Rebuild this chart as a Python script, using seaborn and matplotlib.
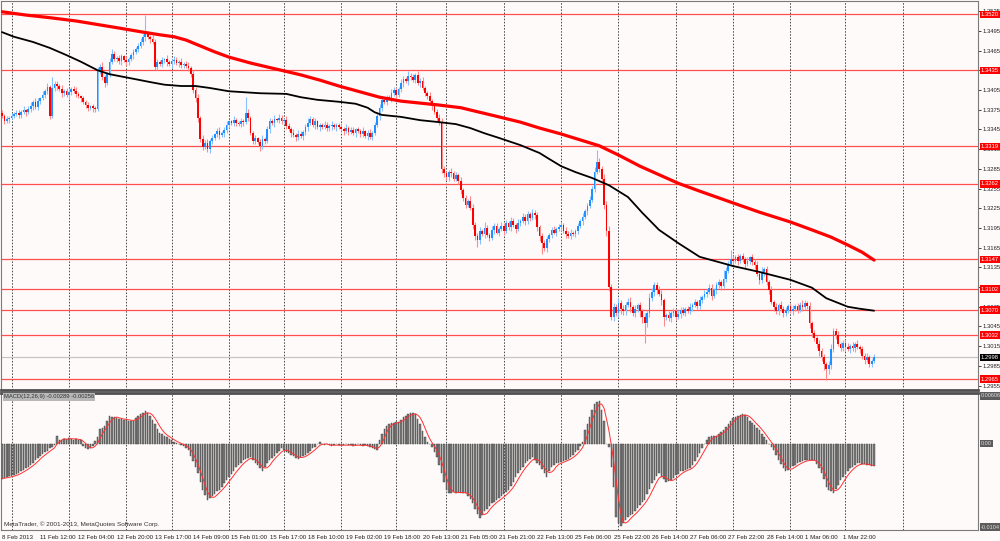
import matplotlib
matplotlib.use("Agg")
import matplotlib.pyplot as plt
import matplotlib.transforms as mtransforms
import numpy as np
import pandas as pd
import seaborn as sns

# EURUSD H1, prices stored as pips above 1.2900
BASE = 1.2900
first_open = 470
closes = [
    465, 458, 461, 463, 466, 468, 470, 467, 472, 474, 471, 476, 481, 486, 479, 488, 492, 498, 503, 510,
    466, 508, 514, 511, 506, 500, 504, 497, 502, 507, 503, 499, 496, 492, 487, 482, 478, 480, 477, 476,
    534, 540, 524, 515, 530, 548, 560, 552, 553, 549, 556, 550, 547, 552, 558, 563, 568, 572, 578, 585,
    590, 586, 582, 578, 540, 548, 545, 550, 552, 547, 544, 549, 551, 546, 548, 543, 545, 541, 538, 530,
    505, 492, 462, 430, 418, 425, 415, 428, 432, 438, 442, 436, 440, 444, 452, 457, 454, 459, 455, 453,
    458, 456, 470, 462, 440, 428, 432, 426, 420, 431, 427, 445, 458, 455, 461, 459, 463, 457, 460, 450,
    446, 440, 437, 433, 438, 435, 441, 448, 455, 461, 452, 458, 448, 451, 449, 452, 447, 450, 452, 448,
    451, 449, 446, 443, 447, 441, 444, 440, 445, 442, 438, 442, 435, 440, 434, 439, 452, 466, 478, 490,
    487, 494, 492, 500, 505, 498, 506, 515, 522, 518, 527, 524, 520, 528, 516, 519, 508, 500, 496, 488,
    480, 472, 462, 455, 384, 378, 372, 380, 378, 370, 375, 367, 352, 340, 330, 336, 326, 300, 282, 276,
    290, 286, 295, 284, 280, 292, 298, 288, 294, 298, 290, 302, 296, 306, 300, 294, 303, 306, 312, 305,
    316, 310, 318, 314, 296, 282, 272, 265, 278, 284, 292, 288, 294, 296, 300, 290, 286, 283, 288, 285,
    290, 298, 305, 312, 320, 328, 338, 355, 380, 395, 385, 370, 330, 290, 205, 160, 175, 165, 180, 172,
    168, 178, 183, 174, 166, 171, 177, 168, 160, 150, 165, 188, 198, 208, 200, 195, 185, 160, 162, 158,
    165, 168, 160, 164, 170, 166, 172, 168, 175, 178, 182, 176, 186, 190, 195, 198, 204, 192, 200, 208,
    212, 206, 218, 230, 240, 248, 245, 250, 244, 252, 247, 240, 245, 250, 243, 238, 225, 215, 228, 232,
    212, 200, 182, 175, 168, 178, 172, 165, 170, 176, 168, 172, 176, 170, 178, 174, 180, 176, 150, 135,
    128, 118, 108, 98, 88, 80, 86, 110, 138, 132, 118, 112, 120, 114, 110, 116, 112, 118, 114, 110,
    100, 94, 98, 88, 92, 98,
]
wick_up = [
    4, 3, 5, 2, 4, 3, 5, 4, 3, 6, 2, 4, 5, 3, 6, 4, 3, 5, 4, 6,
    3, 17, 5, 4, 3, 6, 2, 4, 5, 3, 4, 6, 3, 2, 4, 3, 5, 2, 4, 3,
    6, 5, 8, 4, 3, 5, 7, 4, 3, 5, 4, 2, 6, 3, 4, 5, 3, 4, 6, 5,
    29, 4, 3, 6, 5, 4, 3, 5, 2, 6, 4, 3, 5, 4, 2, 5, 3, 4, 6, 3,
    5, 4, 7, 3, 6, 4, 5, 3, 4, 2, 5, 6, 3, 4, 5, 3, 2, 6, 4, 3,
    5, 3, 25, 6, 4, 3, 5, 2, 4, 6, 3, 5, 4, 3, 6, 2, 5, 4, 3, 6,
    4, 3, 5, 2, 6, 4, 3, 5, 7, 4, 3, 5, 2, 4, 3, 6, 4, 3, 5, 2,
    4, 3, 5, 2, 6, 3, 4, 5, 2, 4, 3, 6, 2, 4, 5, 3, 4, 6, 5, 3,
    5, 4, 3, 6, 4, 5, 3, 6, 4, 3, 7, 4, 5, 3, 6, 4, 5, 3, 4, 6,
    3, 5, 4, 6, 8, 5, 4, 3, 6, 4, 5, 3, 6, 4, 5, 3, 8, 6, 4, 5,
    6, 4, 9, 5, 3, 6, 4, 5, 3, 6, 4, 5, 3, 6, 4, 2, 5, 3, 6, 4,
    5, 3, 6, 4, 5, 3, 6, 4, 5, 3, 4, 6, 3, 5, 4, 3, 6, 4, 5, 3,
    4, 5, 3, 6, 4, 5, 6, 4, 8, 19, 6, 5, 7, 6, 8, 5, 6, 4, 8, 5,
    6, 4, 5, 7, 4, 6, 3, 5, 4, 6, 5, 8, 6, 5, 4, 6, 5, 3, 4, 6,
    4, 5, 3, 6, 4, 5, 3, 4, 6, 3, 5, 4, 6, 3, 5, 4, 6, 5, 3, 4,
    5, 4, 13, 6, 4, 13, 5, 4, 6, 3, 5, 4, 6, 3, 5, 4, 6, 5, 7, 4,
    5, 3, 6, 4, 5, 3, 6, 4, 5, 3, 4, 6, 3, 5, 4, 8, 5, 4, 6, 4,
    5, 3, 6, 4, 5, 3, 6, 8, 5, 4, 6, 3, 5, 4, 6, 3, 5, 4, 6, 3,
    5, 4, 6, 3, 4, 5,
]
wick_dn = [
    3, 5, 4, 6, 2, 4, 3, 5, 4, 3, 5, 2, 4, 6, 3, 5, 4, 3, 6, 4,
    5, 3, 4, 6, 3, 5, 4, 3, 6, 4, 3, 5, 4, 6, 3, 4, 5, 3, 6, 5,
    3, 5, 4, 6, 3, 5, 4, 3, 5, 4, 6, 3, 5, 4, 3, 6, 4, 5, 3, 4,
    5, 4, 6, 3, 5, 4, 3, 5, 4, 6, 3, 5, 4, 3, 6, 4, 5, 3, 4, 6,
    4, 5, 6, 4, 5, 3, 4, 6, 5, 3, 4, 5, 3, 6, 4, 5, 3, 4, 5, 3,
    4, 6, 3, 5, 4, 6, 5, 4, 8, 5, 4, 3, 5, 4, 6, 3, 5, 4, 3, 5,
    4, 6, 3, 5, 4, 3, 6, 4, 5, 3, 4, 6, 3, 5, 4, 3, 5, 4, 6, 3,
    5, 4, 3, 6, 4, 5, 3, 4, 6, 3, 5, 4, 3, 6, 4, 5, 3, 4, 6, 5,
    4, 5, 3, 6, 4, 5, 3, 4, 6, 3, 5, 4, 3, 5, 4, 6, 3, 4, 5, 4,
    6, 4, 5, 3, 6, 5, 4, 6, 5, 3, 4, 5, 6, 4, 5, 3, 4, 6, 5, 10,
    5, 4, 6, 3, 5, 4, 6, 3, 5, 4, 6, 3, 4, 5, 3, 6, 4, 5, 3, 6,
    4, 5, 3, 6, 5, 7, 16, 5, 6, 4, 5, 3, 6, 4, 5, 3, 6, 4, 5, 3,
    4, 5, 3, 6, 4, 5, 3, 4, 6, 3, 5, 4, 6, 8, 6, 5, 7, 4, 6, 8,
    5, 6, 4, 7, 5, 6, 4, 8, 10, 30, 6, 5, 4, 6, 5, 4, 8, 15, 5, 4,
    6, 4, 5, 3, 6, 4, 5, 3, 4, 6, 3, 5, 4, 6, 3, 5, 4, 6, 3, 5,
    4, 6, 3, 5, 4, 3, 6, 4, 5, 3, 4, 6, 3, 5, 4, 6, 3, 5, 4, 6,
    4, 5, 3, 6, 4, 5, 3, 6, 4, 5, 3, 6, 4, 5, 3, 6, 4, 5, 7, 6,
    5, 6, 8, 6, 10, 16, 8, 5, 4, 6, 3, 5, 4, 6, 3, 5, 4, 6, 3, 5,
    4, 6, 3, 5, 4, 3,
]

# moving averages (bar index, price)
ma_red_bars = [0, 10, 20, 31, 41, 51, 59, 66, 72, 77, 83, 89, 95, 104, 111, 118, 125, 133, 141, 150,
               158, 167, 175, 183, 192, 200, 208, 217, 225, 234, 242, 250, 258, 267, 275, 283, 292, 306,
               317, 330, 339, 347, 354, 360, 365]
ma_red = [1.3524, 1.3519, 1.3515, 1.3510, 1.3504, 1.3498, 1.3493, 1.3489, 1.3486, 1.3481, 1.3472, 1.3463,
          1.3455, 1.3446, 1.3440, 1.3434, 1.3428, 1.3420, 1.3411, 1.3402, 1.3394, 1.3388, 1.3385, 1.3382,
          1.3378, 1.3371, 1.3364, 1.3356, 1.3347, 1.3338, 1.3329, 1.3320, 1.3306, 1.3289, 1.3276, 1.3263,
          1.3251, 1.3233, 1.3219, 1.3204, 1.3192, 1.3181, 1.3169, 1.3158, 1.3146]
ma_black_bars = [0, 5, 13, 20, 27, 33, 40, 45, 55, 62, 68, 75, 81, 87, 95, 108, 119, 125, 132, 141,
                 148, 153, 156, 159, 167, 175, 183, 190, 196, 202, 208, 217, 225, 229, 234, 240, 247, 254,
                 262, 268, 275, 283, 292, 301, 306, 317, 330, 339, 345, 354, 359, 365]
ma_black = [1.3493, 1.3486, 1.3478, 1.3469, 1.3458, 1.3448, 1.3435, 1.3429, 1.3422, 1.3417, 1.3413, 1.3411,
            1.3411, 1.3408, 1.3403, 1.3400, 1.3399, 1.3394, 1.3390, 1.3387, 1.3384, 1.3378, 1.3371, 1.3367,
            1.3364, 1.3359, 1.3356, 1.3353, 1.3347, 1.3339, 1.3332, 1.3321, 1.3309, 1.3300, 1.3289, 1.3280,
            1.3271, 1.3260, 1.3242, 1.3218, 1.3192, 1.3172, 1.3151, 1.3142, 1.3137, 1.3128, 1.3116, 1.3104,
            1.3088, 1.3075, 1.3072, 1.3069]

# MACD main line, units of 0.0001
macd_hist = [
    -44, -43, -42, -41, -41, -40, -38, -37, -35, -33, -31, -29, -27, -24, -21, -18, -15, -13, -11, -9,
    -6, -4, -2, 10, 4, 5, 6, 6, 7, 6, 5, 6, 5, 4, -3, -5, -7, -6, -3, 3,
    8, 18, 20, 22, 28, 35, 34, 33, 32, 31, 31, 30, 30, 29, 29, 29, 32, 35, 37, 39,
    41, 38, 35, 30, 25, 19, 14, 12, 10, 8, 6, 4, 2, 1, 0, -2, -3, -5, -8, -15,
    -22, -30, -37, -48, -58, -65, -71, -69, -66, -63, -60, -58, -54, -50, -46, -42, -38, -34, -30, -27,
    -24, -21, -19, -18, -17, -21, -24, -27, -31, -35, -30, -25, -21, -18, -15, -12, -9, -6, -8, -10,
    -12, -14, -16, -18, -19, -17, -15, -14, -12, -9, -6, -4, -1, 2, -1, -2, -1, -2, -3, -2,
    -1, -2, -3, -2, -1, -2, -2, -3, -2, -1, -2, -3, -2, -3, -4, -6, -7, -8, 4, 12,
    19, 22, 25, 26, 26, 27, 27, 30, 33, 35, 37, 38, 38, 37, 31, 25, 16, 8, 2, -1,
    -4, -10, -17, -27, -37, -48, -58, -62, -62, -61, -62, -61, -62, -62, -62, -66, -70, -75, -82, -88,
    -94, -90, -85, -82, -78, -75, -73, -71, -69, -66, -63, -61, -58, -53, -48, -42, -37, -33, -29, -25,
    -22, -19, -17, -20, -24, -27, -32, -37, -42, -35, -29, -27, -25, -24, -23, -22, -20, -19, -17, -14,
    -11, -8, -3, 2, 17, 25, 33, 42, 50, 53, 54, 42, 29, 0, -4, -30, -54, -92, -100, -104,
    -100, -96, -93, -90, -88, -85, -81, -77, -74, -71, -64, -57, -50, -46, -41, -37, -42, -45, -48, -47,
    -46, -43, -40, -38, -35, -34, -33, -32, -31, -27, -22, -17, -12, -6, 0, 4, 8, 9, 10, 10,
    12, 15, 17, 21, 25, 29, 32, 34, 35, 36, 37, 36, 33, 29, 26, 23, 20, 17, 12, 8,
    4, 0, -4, -8, -14, -21, -26, -31, -35, -33, -30, -28, -27, -25, -23, -22, -21, -21, -21, -21,
    -21, -26, -31, -37, -45, -54, -58, -60, -62, -57, -52, -46, -42, -38, -34, -31, -29, -27, -25, -25,
    -26, -26, -27, -27, -28, -28,
]
SIGNAL_LEN = 4

levels = [1.3520, 1.3435, 1.3319, 1.3262, 1.3147, 1.3102, 1.3070, 1.3032, 1.2965]
bid = 1.2998
price_ticks = [1.2955, 1.2985, 1.3015, 1.3045, 1.3075, 1.3105, 1.3135, 1.3165, 1.3195, 1.3225,
               1.3255, 1.3285, 1.3315, 1.3345, 1.3375, 1.3405, 1.3435, 1.3465, 1.3495, 1.3525]
date_labels = ["8 Feb 2013", "11 Feb 12:00", "12 Feb 04:00", "12 Feb 20:00", "13 Feb 17:00",
               "14 Feb 09:00", "15 Feb 01:00", "15 Feb 17:00", "18 Feb 10:00", "19 Feb 02:00",
               "19 Feb 18:00", "20 Feb 13:00", "21 Feb 05:00", "21 Feb 21:00", "22 Feb 13:00",
               "25 Feb 06:00", "25 Feb 22:00", "26 Feb 14:00", "27 Feb 06:00", "27 Feb 22:00",
               "28 Feb 14:00", "1 Mar 06:00", "1 Mar 22:00"]
day_start_bars = [4, 28, 52, 71, 95, 118, 142, 165, 186, 210, 234, 258, 282, 306, 330, 353, 377]
macd_axis_labels = ["0.00606", "0.00", "-0.0104"]
macd_axis_values = [0.0060, 0.0, -0.0105]

BG = "#fffafa"
UP = "#1e90ff"
DOWN = "#ff0000"

sns.set_theme(style="white")
plt.rcParams["font.family"] = ["Liberation Sans", "DejaVu Sans"]

close_p = BASE + np.array(closes) / 10000.0
open_p = np.concatenate([[BASE + first_open / 10000.0], close_p[:-1]])
high_p = np.maximum(open_p, close_p) + np.array(wick_up) / 10000.0
low_p = np.minimum(open_p, close_p) - np.array(wick_dn) / 10000.0
idx = np.arange(len(close_p))
rising = close_p >= open_p

macd = np.array(macd_hist) / 10000.0
signal = pd.Series(macd).rolling(SIGNAL_LEN, min_periods=1).mean().values

fig = plt.figure(figsize=(10, 5.41), dpi=100, facecolor=BG)
ax = fig.add_axes([0.001, (541 - 390) / 541, 0.977, 389 / 541], facecolor=BG)
axm = fig.add_axes([0.001, (541 - 530) / 541, 0.977, 137 / 541], facecolor=BG)

XMIN, XMAX = -0.42, 408.5
for a in (ax, axm):
    a.set_xlim(XMIN, XMAX)
    for b in day_start_bars:
        a.axvline(b, color="#4a4a4a", lw=0.7, ls=(0, (1.6, 1.6)), zorder=1)
    for s in a.spines.values():
        s.set_color("#7a7a7a")
        s.set_linewidth(0.8)

ax.set_ylim(1.29483, 1.35404)
axm.set_ylim(-0.010875, 0.006375)

# horizontal levels
for lv in levels:
    ax.axhline(lv, color="#ff5050", lw=0.9, zorder=2)
ax.axhline(bid, color="#c4c4c4", lw=0.9, zorder=2)

# candles
wick_cols = np.where(rising, "#86c2ff", "#ff8a8a")
ax.vlines(idx, low_p, high_p, colors=wick_cols, lw=0.8, zorder=3)
body_h = np.maximum(np.abs(close_p - open_p), 0.00008)
ax.bar(idx, body_h, bottom=np.minimum(open_p, close_p), width=0.72,
       color=np.where(rising, UP, DOWN), linewidth=0, zorder=4)

# moving averages
sns.lineplot(x=ma_black_bars, y=ma_black, ax=ax, color="black", lw=1.3, zorder=5, estimator=None, sort=False)
sns.lineplot(x=ma_red_bars, y=ma_red, ax=ax, color="#ff0000", lw=2.3, zorder=6, estimator=None, sort=False)

# price axis on the right
ax.yaxis.tick_right()
ax.set_yticks(price_ticks)
ax.set_yticklabels([f"{t:.4f}" for t in price_ticks])
ax.tick_params(axis="y", length=2, width=0.6, pad=1.2, labelsize=4.2, colors="#202020")
ax.set_xticks([])
ax.set_xlabel("")
ax.set_ylabel("")
ax.spines["bottom"].set_linewidth(2.0)
ax.spines["bottom"].set_color("#505050")

tr = mtransforms.blended_transform_factory(ax.transAxes, ax.transData)
for lv in levels:
    ax.text(1.003, lv, f"{lv:.4f}", transform=tr, ha="left", va="center", fontsize=4.2, color="white",
            zorder=10, clip_on=False,
            bbox=dict(boxstyle="square,pad=0.2", fc="#ff0000", ec="none"))
ax.text(1.003, bid, f"{bid:.4f}", transform=tr, ha="left", va="center", fontsize=4.2, color="white",
        zorder=10, clip_on=False, bbox=dict(boxstyle="square,pad=0.2", fc="black", ec="none"))

# MACD panel
axm.bar(idx, macd, width=0.62, color="#7c7c7c", edgecolor="#3a3a3a", linewidth=0.3, zorder=3)
sns.lineplot(x=idx, y=signal, ax=axm, color="#ff3030", lw=0.7, zorder=4, estimator=None)
axm.set_yticks([])
axm.set_ylabel("")
axm.spines["top"].set_linewidth(2.0)
axm.spines["top"].set_color("#505050")
trm = mtransforms.blended_transform_factory(axm.transAxes, axm.transData)
for lab, val in zip(macd_axis_labels, macd_axis_values):
    axm.text(1.003, val, lab, transform=trm, ha="left", va="center", fontsize=4.0, color="#dcdcdc",
             clip_on=False, bbox=dict(boxstyle="square,pad=0.2", fc="#5c5c5c", ec="none"))
axm.text(0.003, 0.99, "MACD(12,26,9) -0.00289 -0.00256", transform=axm.transAxes, ha="left", va="top",
         fontsize=4.2, color="#303030", zorder=10,
         bbox=dict(boxstyle="square,pad=0.2", fc="#b8b8b8", ec="none"))
axm.text(0.003, 0.025, "MetaTrader, \u00a9 2001-2013, MetaQuotes Software Corp.", transform=axm.transAxes,
         ha="left", va="bottom", fontsize=4.6, color="#303030", zorder=10)

axm.set_xticks([16 * i for i in range(len(date_labels))])
axm.set_xticklabels(date_labels, ha="left")
axm.tick_params(axis="x", length=2.5, width=0.6, pad=1, labelsize=4.4, colors="#202020")
axm.set_xlabel("")

fig.savefig("out.png", dpi=100, facecolor=BG)
